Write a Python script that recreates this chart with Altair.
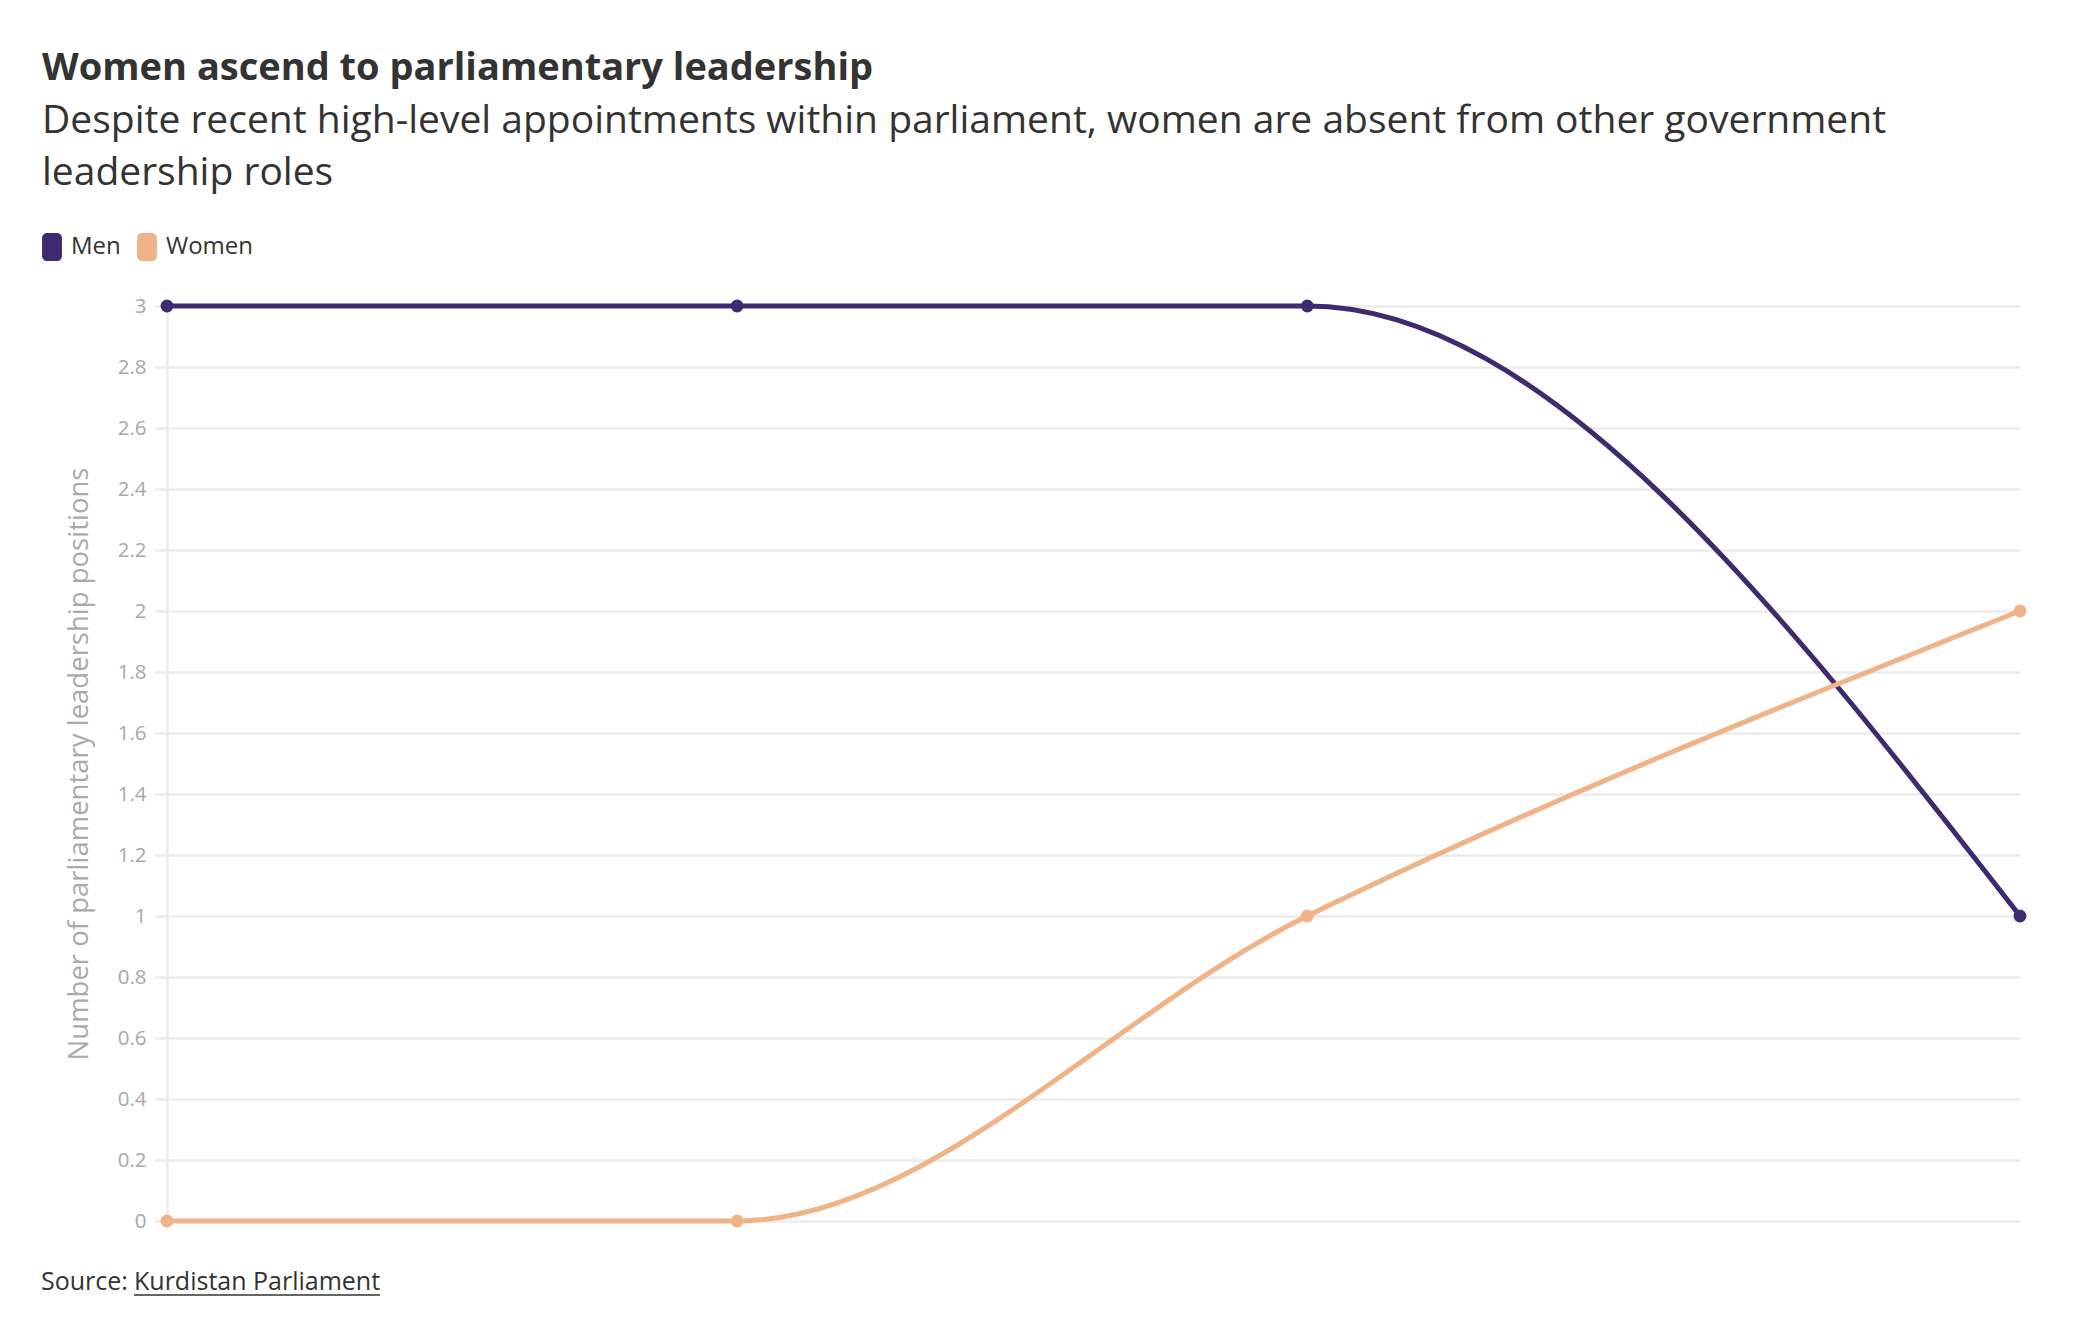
import altair as alt
import pandas as pd

# ---- data ----
years = [2005, 2009, 2013, 2018]
men = [3, 3, 3, 1]
women = [0, 0, 1, 2]
series_names = ["Men", "Women"]
series_colors = ["#3f2a6f", "#f0b387"]
y_ticks = [0, 0.2, 0.4, 0.6, 0.8, 1, 1.2, 1.4, 1.6, 1.8, 2, 2.2, 2.4, 2.6, 2.8, 3]

title_text = "Women ascend to parliamentary leadership"
subtitle_lines = [
    "Despite recent high-level appointments within parliament, women are absent from other government",
    "leadership roles",
]
y_title = "Number of parliamentary leadership positions"
source_prefix = "Source:"
source_name = "Kurdistan Parliament"

df = pd.DataFrame({
    "year": years + years,
    "value": men + women,
    "series": [series_names[0]] * len(years) + [series_names[1]] * len(years),
})

FONT = "Open Sans"
W, H = 1853, 915

x_enc = alt.X("year:Q", scale=alt.Scale(domain=[years[0], years[-1]], nice=False, zero=False), axis=None)
y_enc = alt.Y(
    "value:Q",
    scale=alt.Scale(domain=[0, 3], nice=False),
    axis=alt.Axis(
        values=y_ticks, format="~g", grid=True, gridColor="#ebebeb", gridWidth=2.5,
        domain=True, domainColor="#ebebeb", domainWidth=2.5,
        ticks=True, tickColor="#ebebeb", tickSize=13, tickWidth=2.5,
        labelFont=FONT, labelFontSize=20.5, labelColor="#a8a8a8", labelPadding=8,
        title=y_title, titleFont=FONT, titleFontSize=27.5, titleFontWeight="normal",
        titleColor="#aaaaaa", titlePadding=24,
    ),
)
color_scale = alt.Scale(domain=series_names, range=series_colors)

swatch = ("M-0.71,-0.64 A0.36,0.36 0 0 1 -0.35,-1 L0.35,-1 A0.36,0.36 0 0 1 0.71,-0.64 "
          "L0.71,0.64 A0.36,0.36 0 0 1 0.35,1 L-0.35,1 A0.36,0.36 0 0 1 -0.71,0.64 Z")

legend = alt.Legend(
    title=None, orient="none", legendX=-129, legendY=-73, direction="horizontal",
    symbolType=swatch, symbolSize=784, symbolStrokeWidth=0, symbolOpacity=1,
    symbolFillColor="#333333",
    labelFont=FONT, labelFontSize=24, labelColor="#333333", labelOffset=5,
    columnPadding=12,
)

base = alt.Chart(df)
lines = base.mark_line(interpolate="monotone", strokeWidth=5).encode(
    x=x_enc, y=y_enc,
    color=alt.Color("series:N", scale=color_scale, legend=legend),
)
points = base.mark_point(filled=True, size=165, opacity=1).encode(
    x=x_enc, y=y_enc,
    color=alt.Color("series:N", scale=color_scale, legend=legend),
)

src_df = pd.DataFrame({"a": [source_prefix], "b": [source_name]})
src1 = alt.Chart(src_df).mark_text(
    font=FONT, fontSize=25, color="#333333", align="left", baseline="alphabetic"
).encode(x=alt.value(-126), y=alt.value(984), text="a:N")
src2 = alt.Chart(src_df).mark_text(
    font=FONT, fontSize=25, color="#333333", align="left", baseline="alphabetic"
).encode(x=alt.value(-33), y=alt.value(984), text="b:N")
underline = alt.Chart(src_df).mark_rule(color="#333333", strokeWidth=1.5).encode(
    x=alt.value(-33), x2=alt.value(213), y=alt.value(989), y2=alt.value(989)
)

chart = alt.layer(lines, points, src1, src2, underline).properties(
    width=W, height=H,
    background="white",
    title=alt.TitleParams(
        text=title_text, subtitle=subtitle_lines, anchor="start", frame="group", dx=-125,
        font=FONT, fontSize=38, fontWeight="bold", color="#333333",
        subtitleFont=FONT, subtitleFontSize=39, subtitleColor="#333333",
        subtitleLineHeight=52, subtitlePadding=14, offset=40,
    ),
    autosize=alt.AutoSizeParams(type="none"),
    padding={"left": 159, "top": 298, "right": 56, "bottom": 110},
).configure_view(stroke=None)

chart.save("out.html", embed_options={"renderer": "svg", "actions": False})
